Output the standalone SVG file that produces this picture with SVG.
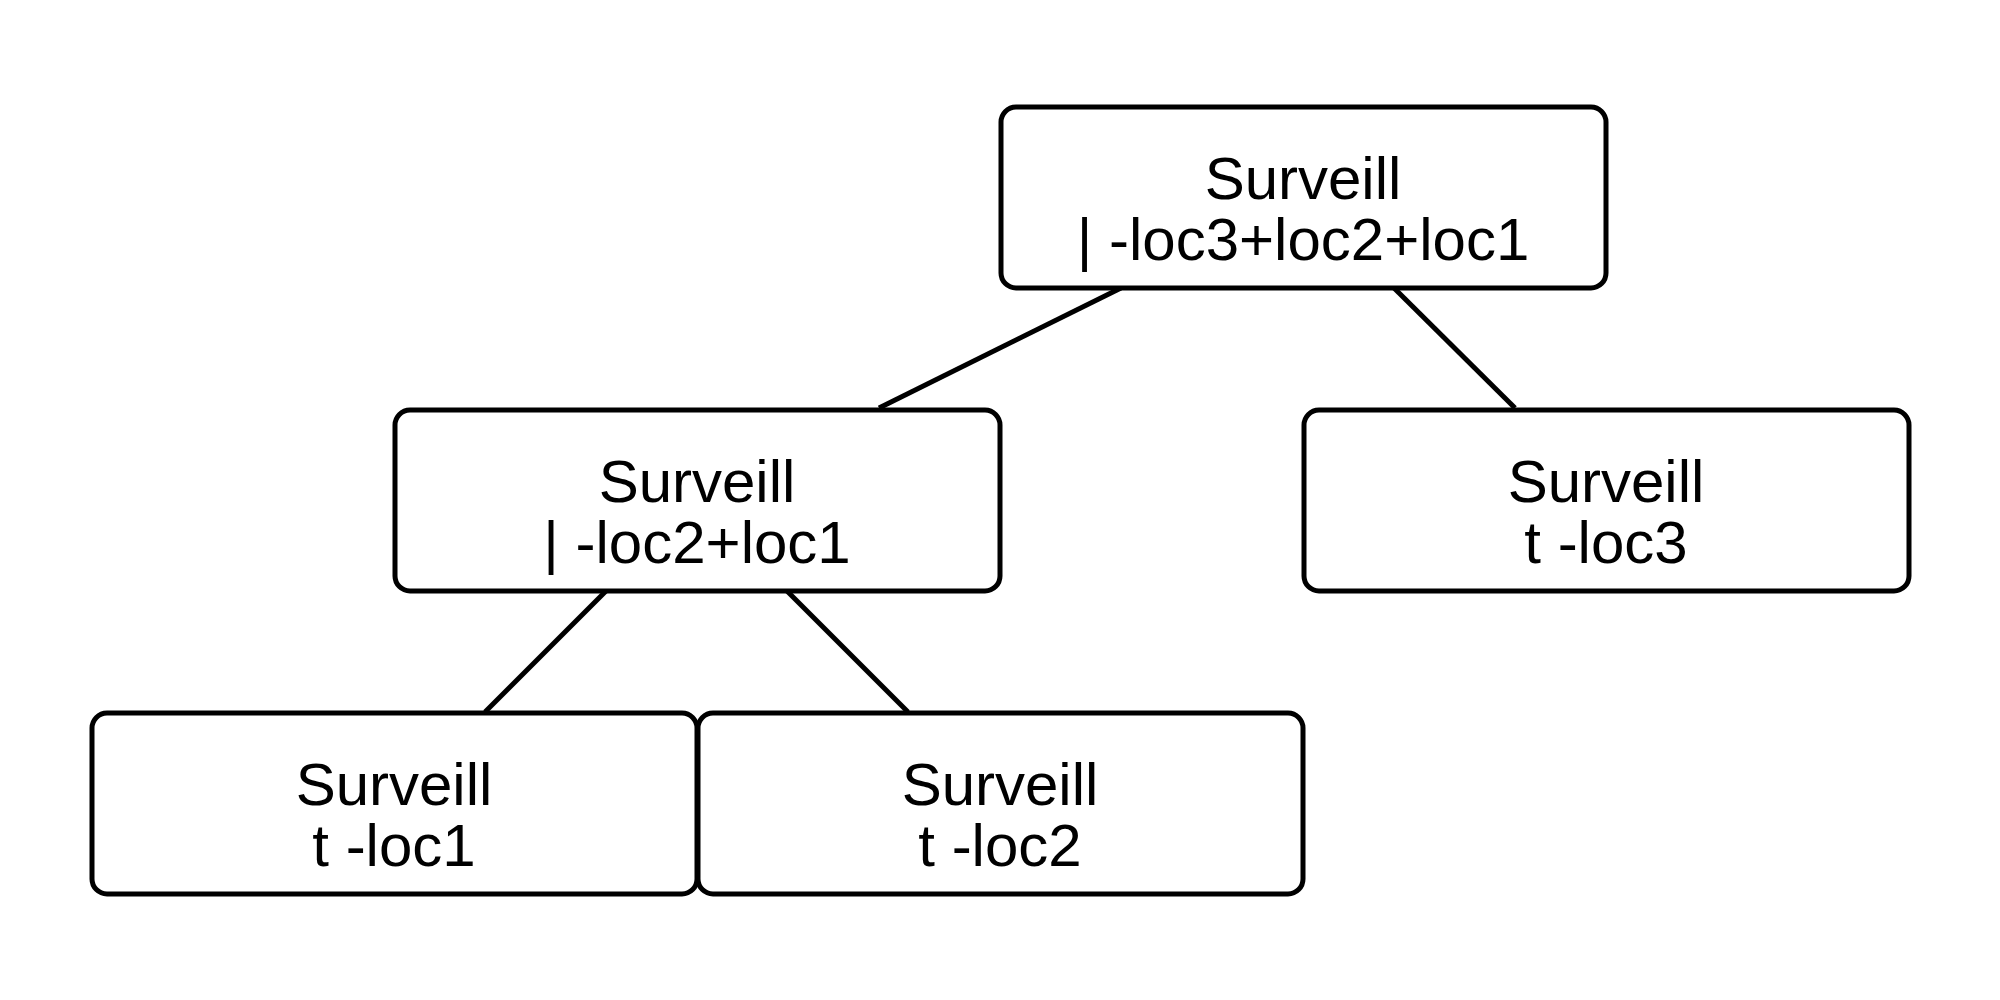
<svg xmlns="http://www.w3.org/2000/svg" width="2000" height="1000" viewBox="0 0 2000 1000">
<style>
.box{fill:#fff;stroke:#000;stroke-width:5}
.lbl{font-family:"Liberation Sans",Arial,sans-serif;font-size:60px;fill:#000;text-anchor:middle}
.edge{stroke:#000;stroke-width:5;fill:none}
</style>
<rect width="2000" height="1000" fill="#fff"/>
<g id="connectors">
<line class="edge" x1="1121" y1="288" x2="879" y2="408"/>
<line class="edge" x1="1394" y1="288" x2="1515" y2="408"/>
<line class="edge" x1="606" y1="591" x2="485" y2="712"/>
<line class="edge" x1="787" y1="591" x2="908" y2="712"/>
</g>
<g id="n0">
<rect class="box" x="1001" y="107" width="605" height="181" rx="15"/>
<text class="lbl" x="1303" y="199">Surveill</text>
<text class="lbl" x="1303" y="260">| -loc3+loc2+loc1</text>
</g>
<g id="n1">
<rect class="box" x="395" y="410" width="605" height="181" rx="15"/>
<text class="lbl" x="697" y="502">Surveill</text>
<text class="lbl" x="697" y="563">| -loc2+loc1</text>
</g>
<g id="n2">
<rect class="box" x="1304" y="410" width="605" height="181" rx="15"/>
<text class="lbl" x="1606" y="502">Surveill</text>
<text class="lbl" x="1606" y="563">t -loc3</text>
</g>
<g id="n3">
<rect class="box" x="92" y="713" width="605" height="181" rx="15"/>
<text class="lbl" x="394" y="805">Surveill</text>
<text class="lbl" x="394" y="866">t -loc1</text>
</g>
<g id="n4">
<rect class="box" x="698" y="713" width="605" height="181" rx="15"/>
<text class="lbl" x="1000" y="805">Surveill</text>
<text class="lbl" x="1000" y="866">t -loc2</text>
</g>
</svg>
